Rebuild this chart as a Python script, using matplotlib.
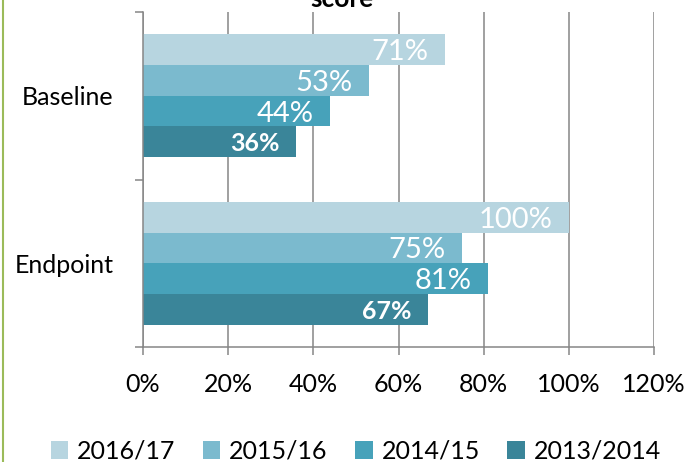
import matplotlib
matplotlib.use("Agg")
import matplotlib.pyplot as plt
from matplotlib.patches import Patch
from matplotlib.lines import Line2D
from matplotlib.ticker import FuncFormatter

plt.rcParams['font.family'] = ['Lato', 'DejaVu Sans']

categories = ['Endpoint', 'Baseline']
series = ['2016/17', '2015/16', '2014/15', '2013/2014']
endpoint_vals = [100, 75, 81, 67]
baseline_vals = [71, 53, 44, 36]
colors = ['#B7D5E0', '#7BBACE', '#47A2BA', '#3A8599']
xticks = [0, 20, 40, 60, 80, 100, 120]

values = {'Endpoint': endpoint_vals, 'Baseline': baseline_vals}

fig = plt.figure(figsize=(6.91, 4.62), dpi=100)
ax = fig.add_axes([143/691, 1-347/462, (654-143)/691, (347-12)/462])

h = 0.183
offsets = [1.5, 0.5, -0.5, -1.5]
grid_c = '#868686'

for ci, cat in enumerate(categories):
    for si, s in enumerate(series):
        v = values[cat][si]
        y = ci + offsets[si] * h
        ax.barh(y, v, height=h, color=colors[si], zorder=2,
                label=s if ci == 0 else None)
        bold = (si == 3)
        ax.annotate(f"{v}%", xy=(v, y), xytext=(-12, 0), textcoords='offset points',
                    ha='right', va='center_baseline', color='white',
                    fontsize=18 if bold else 21,
                    fontweight='bold' if bold else 'normal', zorder=3)

ax.set_xlim(0, 120)
ax.set_ylim(-0.5, 1.5)
ax.set_xticks(xticks)
ax.xaxis.set_major_formatter(FuncFormatter(lambda x, p: f"{int(x)}%"))
ax.grid(axis='x', color=grid_c, linewidth=1.1, zorder=0)
ax.set_axisbelow(True)

ax.set_yticks([-0.5, 0.5, 1.5])
ax.set_yticklabels([])
ax.set_yticks([0, 1], minor=True)
ax.set_yticklabels(categories, minor=True, fontsize=18)
ax.tick_params(axis='y', which='minor', length=0, pad=21)
ax.tick_params(axis='y', which='major', length=6, width=1.1, color=grid_c)
ax.tick_params(axis='x', length=6, width=1.1, color=grid_c, labelsize=18, pad=13)

for sp in ['top', 'right']:
    ax.spines[sp].set_visible(False)
for sp in ['left', 'bottom']:
    ax.spines[sp].set_color(grid_c)
    ax.spines[sp].set_linewidth(1.1)

fig.text(342/691, 1-7/462, 'score', ha='center', va='baseline',
         fontsize=19, fontweight='bold')

handles = [Patch(facecolor=c, edgecolor='none') for c in colors]
fig.legend(handles, series, loc='center', bbox_to_anchor=(0.515, 1-451/462),
           ncol=4, frameon=False, fontsize=18, handlelength=0.7, handleheight=0.7,
           handletextpad=0.35, columnspacing=1.1, borderaxespad=0, borderpad=0)

fig.add_artist(Line2D([2.5/691, 2.5/691], [0, 1], transform=fig.transFigure,
                      color='#9BBB59', linewidth=1.5))

fig.savefig('out.png', dpi=100)
